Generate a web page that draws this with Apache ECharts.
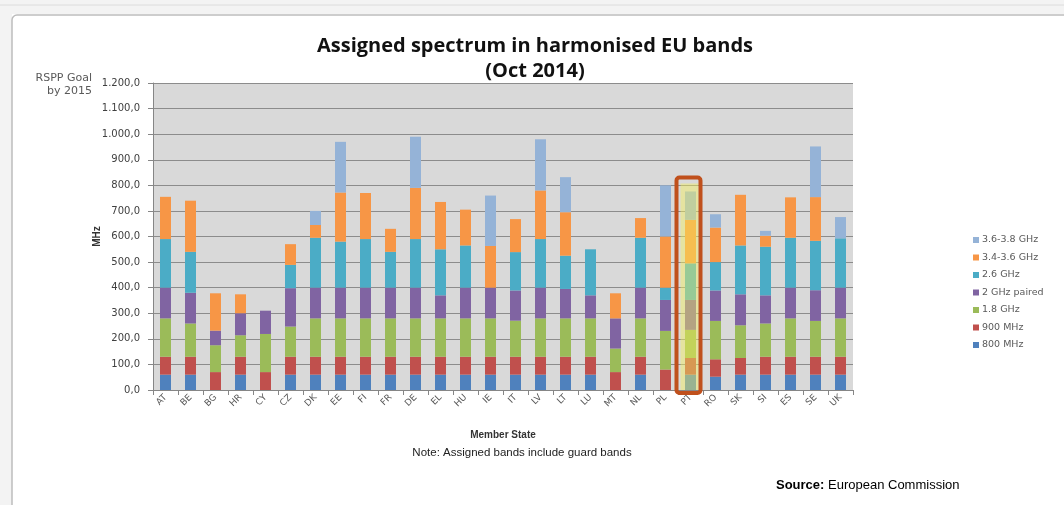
<!DOCTYPE html>
<html>
<head>
<meta charset="utf-8">
<script src="https://cdn.jsdelivr.net/npm/echarts@6/dist/echarts.min.js"></script>
<style>
  html, body { margin: 0; padding: 0; background: #fff; }
  #chart { width: 1064px; height: 505px; }
</style>
</head>
<body>
<div id="chart"></div>
<script>
// member states
const states = ['AT', 'BE', 'BG', 'HR', 'CY', 'CZ', 'DK', 'EE', 'FI', 'FR', 'DE', 'EL', 'HU', 'IE',
  'IT', 'LV', 'LT', 'LU', 'MT', 'NL', 'PL', 'PT', 'RO', 'SK', 'SI', 'ES', 'SE', 'UK'];

// MHz assigned per band
const mhz800  = [60, 60, 0, 60, 0, 60, 60, 60, 60, 60, 60, 60, 60, 60, 60, 60, 60, 60, 0, 60, 0, 60, 52, 60, 60, 60, 60, 60];
const mhz900  = [70, 70, 70, 70, 70, 70, 70, 70, 70, 70, 70, 70, 70, 70, 70, 70, 70, 70, 70, 70, 80, 65, 68, 65, 70, 70, 70, 70];
const ghz18   = [150, 130, 105, 84, 149, 118, 150, 150, 150, 150, 150, 150, 150, 150, 141, 150, 150, 150, 92, 150, 151, 110, 150, 128, 130, 150, 140, 150];
const ghz2    = [120, 120, 57, 86, 91, 150, 120, 120, 120, 120, 120, 90, 120, 120, 118, 120, 115, 90, 118, 120, 121, 117, 119, 121, 110, 120, 120, 120];
const ghz26   = [190, 160, 0, 0, 0, 91, 195, 180, 190, 140, 190, 180, 165, 0, 150, 190, 130, 180, 0, 195, 48, 143, 111, 191, 190, 195, 193, 193];
const ghz3436 = [165, 200, 146, 74, 0, 81, 50, 192, 180, 90, 200, 185, 140, 163, 129, 190, 170, 0, 98, 77, 200, 170, 135, 198, 43, 158, 171, 0];
const ghz3638 = [0, 0, 0, 0, 0, 0, 55, 198, 0, 0, 200, 0, 0, 197, 0, 200, 137, 0, 0, 0, 200, 111, 52, 0, 19, 0, 198, 83];

const bandNames = ['800 MHz', '900 MHz', '1.8 GHz', '2 GHz paired', '2.6 GHz', '3.4-3.6 GHz', '3.6-3.8 GHz'];
const bandData = [mhz800, mhz900, ghz18, ghz2, ghz26, ghz3436, ghz3638];
const bandColors = ['#4f81bd', '#c0504d', '#9bbb59', '#8064a2', '#4bacc6', '#f79646', '#95b3d7'];

const highlighted = 'PT';

const chart = echarts.init(document.getElementById('chart'));

// 1.200,0 style
const fmt = (v) => {
  const s = String(Math.round(v));
  return s.replace(/\B(?=(\d{3})+(?!\d))/g, '.') + ',0';
};

const series = bandNames.map((name, i) => ({
  name: name,
  type: 'bar',
  stack: 'total',
  barWidth: 11,
  itemStyle: { color: bandColors[i] },
  data: bandData[i]
}));

const option = {
  animation: false,
  backgroundColor: '#fff',
  title: {
    text: 'Assigned spectrum in harmonised EU bands\n(Oct 2014)',
    left: 530,
    textAlign: 'center',
    top: 29,
    textStyle: { fontFamily: 'Open Sans', fontWeight: 'bold', fontSize: 20, lineHeight: 25, color: '#111' }
  },
  legend: {
    orient: 'vertical',
    left: 968,
    top: 230,
    itemWidth: 6,
    itemHeight: 6,
    itemGap: 7.5,
    icon: 'rect',
    data: bandNames.slice().reverse(),
    textStyle: { fontFamily: 'DejaVu Sans', fontSize: 9.5, color: '#595959', padding: [0, 0, 0, -2] }
  },
  grid: { left: 153, right: 211, top: 83, bottom: 115, show: true, backgroundColor: '#d9d9d9', borderWidth: 0 },
  xAxis: {
    type: 'category',
    data: states,
    name: 'Member State',
    nameLocation: 'middle',
    nameGap: 40,
    nameTextStyle: { fontFamily: 'Liberation Sans', fontWeight: 'bold', fontSize: 10, color: '#333' },
    axisLine: { lineStyle: { color: '#868686' } },
    axisTick: { show: true, length: 5, lineStyle: { color: '#868686' } },
    axisLabel: { rotate: 45, fontFamily: 'DejaVu Sans', fontSize: 9, color: '#595959', margin: 6 }
  },
  yAxis: {
    type: 'value',
    min: 0,
    max: 1200,
    interval: 100,
    name: 'MHz',
    nameLocation: 'middle',
    nameGap: 51,
    nameMoveOverlap: false,
    nameRotate: 90,
    nameTextStyle: { fontFamily: 'Liberation Sans', fontWeight: 'bold', fontSize: 10, color: '#333' },
    axisLine: { show: true, lineStyle: { color: '#868686' } },
    axisTick: { show: true, length: 5, lineStyle: { color: '#868686' } },
    axisLabel: { formatter: fmt, fontFamily: 'DejaVu Sans', fontSize: 10, color: '#404040', margin: 13 },
    splitLine: { lineStyle: { color: '#8c8c8c', width: 1 } }
  },
  series: series
};

chart.setOption(option);

// highlight box around PT, placed through the axes
const cx = chart.convertToPixel({ xAxisIndex: 0 }, highlighted);
const idx = states.indexOf(highlighted);
let ptTotal = 0;
bandData.forEach(arr => { ptTotal += arr[idx]; });
const yTop = chart.convertToPixel({ yAxisIndex: 0 }, ptTotal);
const yBase = chart.convertToPixel({ yAxisIndex: 0 }, 0);

chart.setOption({
  graphic: [
    // excel sheet strip at the top
    { type: 'rect', shape: { x: 0, y: 0, width: 1064, height: 14 }, style: { fill: '#f3f3f3' }, z: -10 },
    { type: 'line', shape: { x1: 0, y1: 5, x2: 1064, y2: 5 }, style: { stroke: '#dcdcdc' }, z: -9 },
    { type: 'rect', shape: { x: 0, y: 0, width: 12, height: 505 }, style: { fill: '#f3f3f3' }, z: -10 },
    { type: 'rect', shape: { x: 12, y: 15, width: 1100, height: 520, r: 5 }, style: { fill: '#fff', stroke: '#bdbdbd', lineWidth: 1.5 }, z: -8 },
    {
      type: 'text',
      style: {
        x: 92, y: 72, textAlign: 'right',
        text: 'RSPP Goal\nby 2015', fontFamily: 'DejaVu Sans', fontSize: 11, lineHeight: 13, fill: '#595959'
      }
    },
    {
      type: 'text',
      style: {
        x: 522, y: 447, textAlign: 'center',
        text: 'Note: Assigned bands include guard bands', fontFamily: 'Liberation Sans', fontSize: 11.5, fill: '#222'
      }
    },
    {
      type: 'text', left: 776, top: 479,
      style: {
        text: '{b|Source:} European Commission',
        rich: {
          b: { fontFamily: 'Liberation Sans', fontWeight: 'bold', fontSize: 13, fill: '#000' }
        },
        fontFamily: 'Liberation Sans', fontSize: 13, fill: '#000'
      }
    },
    {
      type: 'rect', z: 100,
      shape: { x: cx - 10, y: yTop - 8, width: 18, height: yBase - yTop + 8 },
      style: { fill: 'rgba(245,240,90,0.45)' }
    },
    {
      type: 'rect', z: 101,
      shape: { x: cx - 14, y: yTop - 14, width: 24, height: yBase - yTop + 17, r: 3 },
      style: { fill: 'none', stroke: '#c0501c', lineWidth: 4 }
    }
  ]
});

window.addEventListener('resize', () => {
  chart.resize();
});
</script>
</body>
</html>
